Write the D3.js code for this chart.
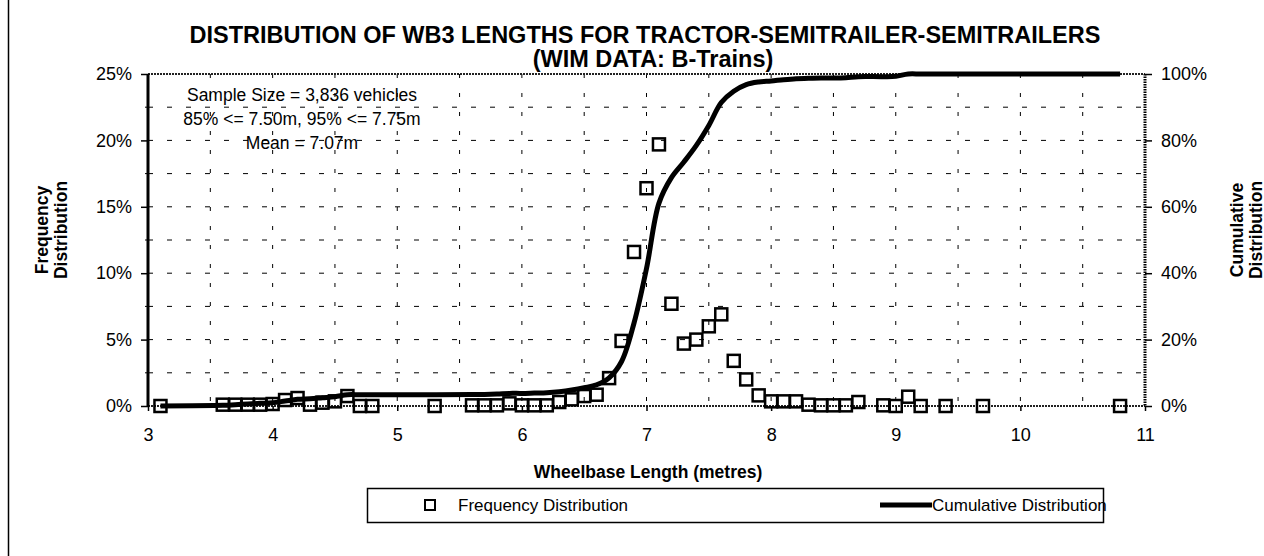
<!DOCTYPE html>
<html>
<head>
<meta charset="utf-8">
<script src="https://cdn.jsdelivr.net/npm/d3@7"></script>
<style>
  body { margin: 0; background: #fff; }
  svg { display: block; font-family: "Liberation Sans", Arial, sans-serif; }
</style>
</head>
<body>
<svg id="chart" width="1264" height="556"></svg>
<script>
// wheelbase lengths (m)
var lengths = [3.1, 3.6, 3.7, 3.8, 3.9, 4.0, 4.1, 4.2, 4.3, 4.4, 4.5, 4.6, 4.7, 4.8,
  5.3, 5.6, 5.7, 5.8, 5.9, 6.0, 6.1, 6.2, 6.3, 6.4, 6.5, 6.6, 6.7, 6.8,
  6.9, 7.0, 7.1, 7.2, 7.3, 7.4, 7.5, 7.6, 7.7, 7.8, 7.9, 8.0, 8.1, 8.2,
  8.3, 8.4, 8.5, 8.6, 8.7, 8.9, 9.0, 9.1, 9.2, 9.4, 9.7, 10.8];

// frequency distribution (%)
var frequency = [0.0, 0.1, 0.1, 0.1, 0.1, 0.15, 0.45, 0.6, 0.1, 0.25, 0.35, 0.75, 0.0, 0.0,
  0.0, 0.05, 0.05, 0.05, 0.2, 0.05, 0.05, 0.05, 0.3, 0.5, 0.75, 0.85, 2.1, 4.9,
  11.6, 16.4, 19.7, 7.7, 4.7, 5.0, 6.0, 6.9, 3.4, 2.0, 0.8, 0.35, 0.35, 0.35,
  0.1, 0.05, 0.05, 0.05, 0.3, 0.05, 0.0, 0.7, 0.0, 0.0, 0.0, 0.0];

// cumulative distribution (%)
var cumulative = [0, 0.2, 0.4, 0.6, 0.8, 1.0, 1.5, 2.0, 2.2, 2.5, 2.8, 3.4, 3.4, 3.4,
  3.4, 3.5, 3.5, 3.6, 3.8, 3.8, 3.9, 4.0, 4.3, 4.8, 5.5, 6.4, 8.5, 13.4,
  25.0, 41.4, 61.1, 68.8, 73.5, 78.5, 84.5, 91.4, 94.8, 96.8, 97.6, 97.9, 98.3, 98.6,
  98.7, 98.8, 98.8, 98.9, 99.2, 99.2, 99.3, 100, 100, 100, 100, 100];

var xTicks = [3, 4, 5, 6, 7, 8, 9, 10, 11];
var leftTicks = [0, 5, 10, 15, 20, 25];
var rightTicks = [0, 20, 40, 60, 80, 100];

var titleLines = ["DISTRIBUTION OF WB3 LENGTHS FOR TRACTOR-SEMITRAILER-SEMITRAILERS", "(WIM DATA: B-Trains)"];
var noteLines = ["Sample Size = 3,836 vehicles", "85% <= 7.50m, 95% <= 7.75m", "Mean = 7.07m"];

var svg = d3.select("#chart");
var pLeft = 148, pRight = 1145, pTop = 74, pBottom = 406;

var x = d3.scaleLinear().domain([3, 11]).range([pLeft, pRight]);
var yL = d3.scaleLinear().domain([0, 25]).range([pBottom, pTop]);
var yR = d3.scaleLinear().domain([0, 100]).range([pBottom, pTop]);

// bordure extérieure (gauche)
svg.append("line")
  .attr("x1", 8.5).attr("x2", 8.5).attr("y1", 0).attr("y2", 556)
  .attr("stroke", "#000").attr("stroke-width", 1.5);

// titre
svg.selectAll("text.title")
  .data(titleLines)
  .enter()
  .append("text")
  .attr("class", "title")
  .attr("x", function(d, i) { return i == 0 ? 645 : 653; })
  .attr("y", function(d, i) { return 43 + i * 24; })
  .attr("text-anchor", "middle")
  .attr("font-weight", "bold")
  .attr("font-size", "23.5px")
  .text(function(d) { return d; });

// grille horizontale
var g = svg.append("g");
g.selectAll("line.hgrid")
  .data(d3.range(1, 10).map(function(i) { return i * 2.5; }))
  .enter()
  .append("line")
  .attr("x1", pLeft).attr("x2", pRight)
  .attr("y1", function(d) { return yL(d); })
  .attr("y2", function(d) { return yL(d); })
  .attr("stroke", "#000")
  .attr("stroke-width", 1)
  .attr("stroke-dasharray", "5,14");

// grille verticale
g.selectAll("line.vgrid")
  .data(d3.range(1, 16).map(function(i) { return 3 + i * 0.5; }))
  .enter()
  .append("line")
  .attr("x1", function(d) { return x(d); })
  .attr("x2", function(d) { return x(d); })
  .attr("y1", pTop).attr("y2", pBottom)
  .attr("stroke", "#000")
  .attr("stroke-width", 1)
  .attr("stroke-dasharray", "4,15");

// bords haut et bas (traits hachurés)
[pTop, pBottom].forEach(function(yy) {
  svg.append("line")
    .attr("x1", pLeft).attr("x2", pRight)
    .attr("y1", yy).attr("y2", yy)
    .attr("stroke", "#222")
    .attr("stroke-width", 2)
    .attr("stroke-dasharray", "2,1");
});

// axe gauche
var axisL = d3.axisLeft(yL)
  .tickValues(leftTicks)
  .tickSize(7)
  .tickPadding(9)
  .tickFormat(function(d) { return d + "%"; });
var gL = svg.append("g")
  .attr("transform", "translate(" + pLeft + ",0)")
  .call(axisL);
gL.select(".domain").attr("stroke-width", 3).attr("d", "M0," + pTop + "V" + pBottom);

// axe droit
var axisR = d3.axisRight(yR)
  .tickValues(rightTicks)
  .tickSize(7)
  .tickPadding(9)
  .tickFormat(function(d) { return d + "%"; });
var gR = svg.append("g")
  .attr("transform", "translate(" + pRight + ",0)")
  .call(axisR);
gR.select(".domain").attr("stroke-width", 3).attr("stroke-dasharray", "1.5,1")
  .attr("d", "M0," + pTop + "V" + pBottom);

// axe du bas
var axisB = d3.axisBottom(x)
  .tickValues(xTicks)
  .tickSize(5)
  .tickPadding(17)
  .tickFormat(d3.format("d"));
var gB = svg.append("g")
  .attr("transform", "translate(0," + pBottom + ")")
  .call(axisB);
gB.select(".domain").remove();

[gL, gR, gB].forEach(function(a) {
  a.selectAll("text").attr("font-size", "18px").attr("fill", "#000")
    .attr("font-family", "'Liberation Sans', Arial, sans-serif");
  a.selectAll(".tick line").attr("stroke", "#000").attr("stroke-width", 1.5);
});

// petites graduations à 2.5%
svg.selectAll("line.minorL")
  .data([2.5, 7.5, 12.5, 17.5, 22.5])
  .enter()
  .append("line")
  .attr("x1", pLeft - 3).attr("x2", pLeft)
  .attr("y1", function(d) { return yL(d); })
  .attr("y2", function(d) { return yL(d); })
  .attr("stroke", "#000");

// courbe cumulée
var line = d3.line()
  .x(function(d, i) { return x(lengths[i]); })
  .y(function(d) { return yR(d); })
  .curve(d3.curveCatmullRom.alpha(0.5));

svg.append("path")
  .datum(cumulative)
  .attr("d", line)
  .attr("fill", "none")
  .attr("stroke", "#000")
  .attr("stroke-width", 5);

// carrés de fréquence
var size = 12;
svg.selectAll("rect.freq")
  .data(frequency)
  .enter()
  .append("rect")
  .attr("class", "freq")
  .attr("x", function(d, i) { return x(lengths[i]) - size / 2; })
  .attr("y", function(d) { return yL(d) - size / 2; })
  .attr("width", size)
  .attr("height", size)
  .attr("fill", "none")
  .attr("stroke", "#000")
  .attr("stroke-width", 2.5);

// annotation
svg.selectAll("text.note")
  .data(noteLines)
  .enter()
  .append("text")
  .attr("class", "note")
  .attr("x", 302)
  .attr("y", function(d, i) { return 101 + i * 24; })
  .attr("text-anchor", "middle")
  .attr("font-size", "17.5px")
  .text(function(d) { return d; });

// titres des axes
svg.append("text")
  .attr("x", 648).attr("y", 478)
  .attr("text-anchor", "middle")
  .attr("font-weight", "bold")
  .attr("font-size", "17.5px")
  .text("Wheelbase Length (metres)");

var yTitle = svg.append("text")
  .attr("transform", "translate(67,230) rotate(-90)")
  .attr("text-anchor", "middle")
  .attr("font-weight", "bold")
  .attr("font-size", "17.5px");
yTitle.append("tspan").attr("x", 0).attr("dy", "-1.1em").text("Frequency");
yTitle.append("tspan").attr("x", 0).attr("dy", "1.1em").text("Distribution");

var y2Title = svg.append("text")
  .attr("transform", "translate(1262,230) rotate(-90)")
  .attr("text-anchor", "middle")
  .attr("font-weight", "bold")
  .attr("font-size", "17.5px");
y2Title.append("tspan").attr("x", 0).attr("dy", "-1.1em").text("Cumulative");
y2Title.append("tspan").attr("x", 0).attr("dy", "1.1em").text("Distribution");

// légende
var leg = svg.append("g");
leg.append("rect")
  .attr("x", 367.5).attr("y", 488.5)
  .attr("width", 736).attr("height", 34)
  .attr("fill", "#fff")
  .attr("stroke", "#000")
  .attr("stroke-width", 1.5);
leg.append("rect")
  .attr("x", 425).attr("y", 500)
  .attr("width", 10).attr("height", 10)
  .attr("fill", "none")
  .attr("stroke", "#000")
  .attr("stroke-width", 2);
leg.append("text")
  .attr("x", 458).attr("y", 511)
  .attr("font-size", "17px")
  .text("Frequency Distribution");
leg.append("line")
  .attr("x1", 880).attr("x2", 932)
  .attr("y1", 505).attr("y2", 505)
  .attr("stroke", "#000")
  .attr("stroke-width", 5);
leg.append("text")
  .attr("x", 932).attr("y", 511)
  .attr("font-size", "17px")
  .text("Cumulative Distribution");
</script>
</body>
</html>
